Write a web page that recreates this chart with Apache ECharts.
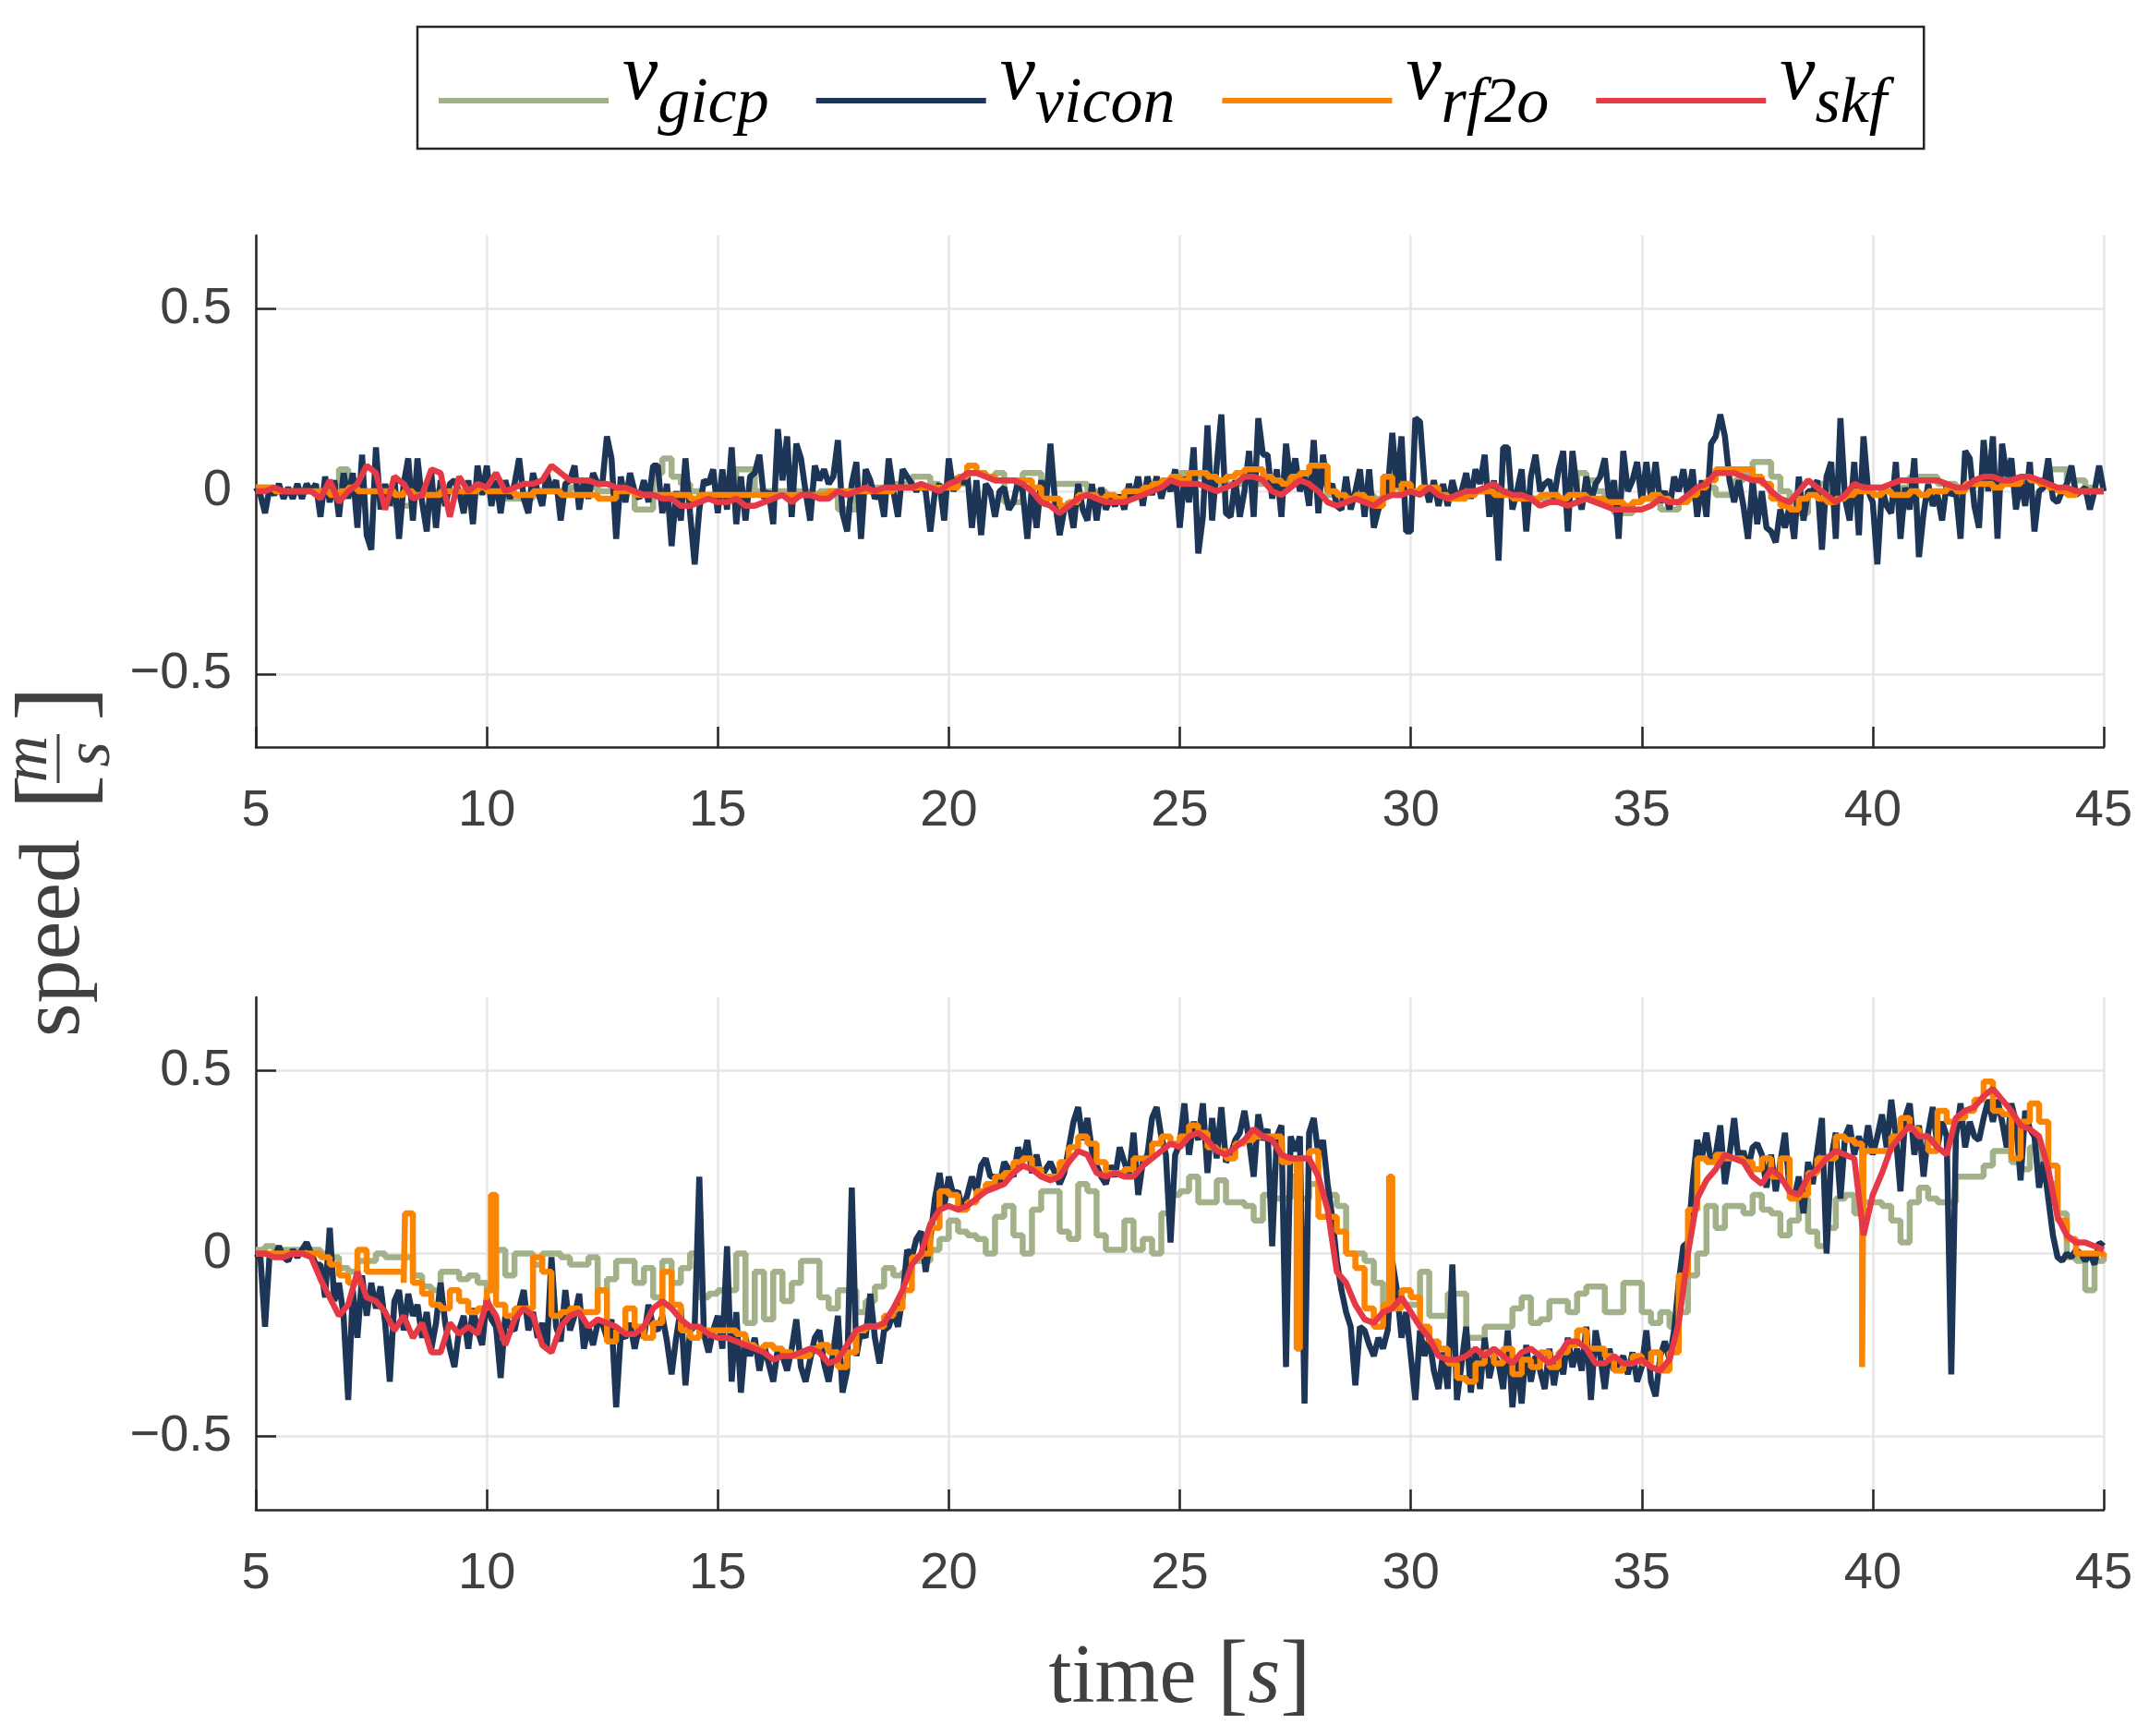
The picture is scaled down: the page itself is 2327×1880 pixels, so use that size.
<!DOCTYPE html>
<html>
<head>
<meta charset="utf-8">
<title>speed</title>
<script src="https://cdn.jsdelivr.net/npm/echarts@6/dist/echarts.min.js"></script>
<style>
  html, body { margin: 0; padding: 0; background: #fff; }
  #main { width: 2327px; height: 1880px; }
</style>
</head>
<body>
<div id="main"></div>
<script>
// samples start at t = 5 s; vicon every 0.1 s, the estimators every 0.2 s
const T_START = 5;
const DT_VICON = 0.1;
const DT_EST = 0.2;
const yTicks = [-0.5, 0, 0.5];
const names = ['gicp', 'vicon', 'rf2o', 'skf'];

// ---- upper plot ----
const topVicon = [
  0.01,-0.01,-0.06,0.01,-0.01,0.02,-0.02,0.01,-0.02,0.02,
  -0.02,0.02,0,0.02,-0.07,0.04,-0.03,0.03,-0.07,0.05,
  -0.02,0.05,-0.1,0.1,-0.12,-0.16,0.12,-0.05,0.02,-0.04,
  0.04,-0.13,0.02,0.09,-0.08,0.09,-0.03,-0.11,0.05,-0.1,
  0.03,-0.04,0.02,0.03,0,-0.06,0.03,-0.09,0.07,-0.01,
  0.07,-0.04,0.03,-0.06,0.03,-0.02,0.02,0.09,-0.02,-0.06,
  0.05,0,-0.04,0.05,0,0.03,-0.08,0.02,0.03,0.07,
  -0.05,0.03,-0.02,0.05,0.02,0.02,0.15,0.09,-0.13,0.04,
  -0.03,0.05,0,-0.02,0.03,-0.03,0.07,0.07,-0.06,0.02,
  -0.15,0,-0.08,0.09,-0.06,-0.2,-0.05,0.03,0.02,0.06,
  -0.06,0.06,-0.05,0.12,-0.09,0.04,-0.08,0.04,0.05,0.1,
  -0.02,0,-0.09,0.17,0.03,0.15,-0.07,0.13,0.09,0,
  -0.08,0.07,0.03,0.06,0.02,0.04,0.14,-0.06,-0.11,0.02,
  0.08,-0.13,0.06,0.03,-0.02,0,-0.07,0.09,0,-0.07,
  0.06,0.04,0.02,0,0.02,0,-0.11,0,0.02,-0.08,
  0.09,0,0.04,0.02,0.05,-0.1,0.03,-0.12,0.02,0,
  -0.07,0,0.01,-0.05,-0.03,0.03,0,-0.13,0.01,-0.1,
  0.03,-0.04,0.13,-0.03,-0.12,-0.05,-0.03,-0.1,0.02,-0.05,
  -0.08,0.02,-0.08,0.01,-0.05,-0.02,-0.04,-0.01,-0.05,0.02,
  -0.02,0.04,-0.04,0.04,-0.01,0.04,-0.02,0.03,0,0.06,
  -0.1,0.04,-0.03,0.12,-0.17,-0.07,0.18,-0.08,0.07,0.21,
  -0.06,-0.07,0.03,-0.07,0,0.11,-0.07,0.2,0.1,0.1,
  -0.02,0.06,-0.07,0.13,0.02,0.09,0,0.04,-0.04,0.14,
  -0.06,0.1,0,0.02,-0.04,-0.05,0.04,-0.05,0,0.06,
  -0.07,0.06,-0.1,-0.05,-0.02,0,0.16,0.01,0.15,-0.11,
  -0.11,0.2,0.19,0.02,-0.03,0.03,-0.04,0.02,-0.04,0.03,
  -0.02,0,0.05,-0.02,0.06,0.02,0.1,-0.07,0.03,-0.19,
  0.12,0.12,-0.05,0,0.06,-0.11,0.04,0.1,0,0.02,
  0.03,-0.02,0.06,0.11,-0.11,0.11,0,-0.05,0.04,-0.03,
  0.02,0.04,0.09,-0.03,0.03,-0.13,0.11,0,0.03,0.08,
  -0.03,0.08,-0.02,0.08,-0.03,0,-0.05,0.04,0,0.06,
  -0.02,0.06,-0.07,0.03,-0.07,0.13,0.15,0.21,0.15,0.03,
  -0.03,0.03,-0.04,-0.13,0.03,-0.09,0,-0.1,-0.11,-0.14,
  -0.05,-0.1,-0.04,-0.13,0.04,-0.08,0,0,0.03,-0.16,
  0.04,0.08,-0.13,0.2,-0.02,-0.08,0.08,-0.12,0.15,0,
  -0.03,-0.2,0.01,-0.04,-0.06,0.08,-0.13,0.01,-0.05,0.09,
  -0.18,-0.06,0.02,-0.04,-0.01,-0.08,0.02,-0.01,0,-0.13,
  0.11,0.09,-0.04,-0.1,0.14,0,0.15,-0.13,0.13,0.04,
  0.09,-0.05,0.03,-0.04,0.08,-0.11,0,0.01,0.09,-0.02,
  -0.03,0,0.02,0.07,-0.01,0,0.01,-0.05,0,0.07,
  0
];
const topGicp = [
  0.01,0.01,0,0,0,  0,0,0,0.02,0.06,  0.03,0,0,0,0,  -0.04,-0.04,0,0,0,
  0,0,0,0,0,  0,0,-0.02,-0.02,-0.02,  0,0,0,0,0.01,  0.01,0.01,0,0,0,
  0,-0.05,-0.05,0.05,0.09,  0.04,0.02,0,-0.01,-0.01,  0,0,0.06,0.06,0,
  0,0,0,0,0,  -0.01,0,0,-0.05,-0.05,  0,0,0.01,0.01,0.02,
  0.02,0.04,0.04,0.02,0.01,  0.01,0.02,0.05,0.05,0.04,  0.05,-0.03,-0.03,0.05,0.05,
  0.02,0.02,0.02,0.02,0.02,  0,0,-0.02,-0.02,0,  0,0,0.01,0.01,0.02,
  0.05,0.05,0.04,0.03,0.02,  0.02,0.02,0.03,0.02,0.02,  0.02,0.02,0.02,0.03,0.03,
  0.02,-0.01,-0.02,-0.02,-0.01,  -0.01,-0.02,0.01,0.01,0,  0,0,0,-0.01,-0.01,
  -0.01,-0.01,0,0,0,  0,-0.01,-0.01,-0.02,-0.02,  -0.02,-0.02,-0.01,0.05,0.03,
  0,-0.02,-0.06,-0.06,-0.03,  -0.02,-0.02,-0.05,-0.05,-0.03,  -0.02,0,0.01,-0.01,-0.01,
  0.03,0.05,0.08,0.08,0.04,  0,-0.03,-0.06,0,0.02,  0,-0.01,0,0.01,0.01,
  0.01,0,0,0.01,0.04,  0.04,0.04,0.02,0.02,0.01,  0.01,0.03,0.03,0.02,0.02,
  0.02,0.03,0.03,0.03,0.06,  0.06,0.03,0.03,0.01,0,
  0
];
const topRf2o = [
  0.01,0.01,0,0,0,  0,0,0,-0.01,0,  0.01,0,0,0,0,  -0.01,0,-0.01,-0.01,-0.01,
  0,0,0,0,0.01,  0,0,0,-0.01,-0.01,  0,0,0,-0.01,-0.01,  -0.01,-0.01,-0.02,-0.02,0,
  0,-0.01,-0.01,-0.01,-0.01,  -0.01,-0.01,-0.02,-0.01,-0.01,  -0.01,-0.01,-0.01,-0.01,-0.01,
  -0.01,-0.01,-0.01,-0.01,-0.01,  -0.01,-0.01,0,0,0,  0,0,0,0,0.01,
  0.01,0.01,0.01,0.01,0.01,  0.01,0.04,0.07,0.05,0.04,  0.03,0.03,0.03,0.03,0.01,
  -0.02,-0.02,-0.04,-0.03,-0.01,  -0.01,-0.02,-0.01,-0.02,0,  0,0.01,0.02,0.03,0.04,
  0.03,0.05,0.05,0.04,0.03,  0.04,0.05,0.06,0.06,0.04,  0.03,0.02,0.04,0.05,0.07,
  0.07,0,-0.01,-0.02,-0.01,  -0.02,-0.04,0.04,-0.01,0.02,  0,0.01,0.01,-0.01,-0.02,
  -0.02,-0.01,0,0,-0.01,  -0.01,-0.02,-0.02,-0.02,-0.01,  -0.01,-0.02,-0.01,-0.01,-0.02,
  -0.02,-0.03,-0.03,-0.04,-0.03,  -0.02,-0.01,-0.02,-0.03,-0.03,  -0.01,0.01,0.03,0.06,0.06,
  0.06,0.06,0.04,0.02,-0.02,  -0.04,-0.05,-0.02,-0.01,-0.02,  -0.03,-0.02,-0.01,0,0,
  -0.01,0,-0.01,-0.01,0,  -0.01,0,0,0.01,0,  0.02,0.02,0.02,0.01,0.02,
  0.02,0.04,0.03,0.02,0.01,  0,-0.01,0,0,0,
  0
];
const topSkf = [
  0,0,0.01,0,0,  0,0,-0.02,0.03,-0.03,  0,0.02,0.07,0.05,-0.05,  0.04,0.02,-0.02,-0.01,0.06,
  0.05,-0.07,0.04,0,0.02,  0.01,0.05,0,0.01,0.02,  0.02,0.03,0.07,0.05,0.03,  0.03,0.03,0.02,0.02,0.01,
  0.01,0,-0.01,-0.01,-0.02,  -0.02,-0.04,-0.04,-0.03,-0.02,  -0.03,-0.03,-0.02,-0.04,-0.04,
  -0.03,-0.02,-0.01,-0.03,-0.01,  -0.01,-0.02,-0.02,0,-0.01,  0,0.01,0,0.01,0.01,
  0.01,0.01,0.02,0.01,0,  0.02,0.03,0.05,0.05,0.04,  0.03,0.03,0.03,0.02,0,
  -0.03,-0.04,-0.06,-0.04,-0.02,  -0.01,-0.02,-0.03,-0.03,-0.03,  -0.02,-0.01,0,0.01,0.03,
  0.02,0.02,0.02,0.01,0,  0.01,0.02,0.04,0.04,0.03,  0,-0.01,0.01,0.03,0.02,
  0,-0.03,-0.04,-0.03,-0.02,  -0.03,-0.04,-0.02,-0.01,-0.01,  0,-0.01,0.01,-0.01,-0.02,
  -0.01,0,0,0.01,0.02,  0,-0.01,-0.01,-0.02,-0.04,  -0.03,-0.03,-0.04,-0.03,-0.02,
  -0.03,-0.04,-0.05,-0.05,-0.05,  -0.05,-0.04,-0.02,-0.03,-0.03,  -0.01,0.01,0.02,0.05,0.05,
  0.05,0.04,0.03,0.03,0,  -0.02,-0.03,0,0.03,0.01,  -0.01,-0.03,-0.01,0.02,0.01,
  0.01,0.01,0.02,0.03,0.03,  0.03,0.03,0.03,0.02,0.01,  0.01,0.03,0.04,0.04,0.03,
  0.03,0.04,0.04,0.03,0.02,  0.01,0.01,0,0,0,
  0
];

// ---- lower plot ----
const botVicon = [
  0,-0.01,-0.2,0,-0.01,0.02,-0.01,-0.02,0.01,-0.01,
  0.01,0.03,0,-0.03,-0.03,-0.12,0.07,-0.13,-0.08,-0.17,
  -0.4,-0.1,-0.23,-0.06,-0.17,-0.08,-0.15,-0.09,-0.19,-0.35,
  -0.13,-0.1,-0.21,-0.11,-0.17,-0.14,-0.23,-0.16,-0.26,-0.19,
  -0.08,-0.19,-0.26,-0.31,-0.21,-0.17,-0.26,-0.15,-0.21,-0.25,
  -0.12,-0.18,-0.2,-0.34,-0.17,-0.2,-0.21,-0.15,-0.1,-0.21,
  -0.16,-0.23,-0.19,-0.26,-0.01,-0.2,-0.24,-0.1,-0.21,-0.17,
  -0.11,-0.26,-0.2,-0.25,-0.19,-0.19,-0.23,-0.18,-0.42,-0.22,
  -0.23,-0.19,-0.26,-0.2,-0.23,-0.14,-0.2,-0.21,-0.17,-0.24,
  -0.33,-0.23,-0.15,-0.36,-0.21,-0.2,0.21,-0.22,-0.27,-0.21,
  -0.17,-0.26,0.02,-0.35,-0.16,-0.38,-0.23,-0.28,-0.23,-0.32,
  -0.25,-0.3,-0.35,-0.26,-0.28,-0.32,-0.26,-0.18,-0.31,-0.35,
  -0.29,-0.23,-0.21,-0.3,-0.35,-0.27,-0.17,-0.38,-0.32,0.18,
  -0.28,-0.21,-0.23,-0.11,-0.23,-0.3,-0.21,-0.2,-0.16,-0.2,
  -0.12,0.01,-0.01,0.04,0.06,-0.05,0.04,0.15,0.22,0.13,
  0.21,0.16,0.17,0.12,0.16,0.21,0.17,0.24,0.26,0.21,
  0.21,0.19,0.25,0.23,0.21,0.29,0.25,0.31,0.22,0.27,
  0.21,0.23,0.25,0.22,0.19,0.22,0.29,0.36,0.4,0.31,
  0.37,0.28,0.24,0.21,0.19,0.24,0.21,0.29,0.25,0.21,
  0.33,0.16,0.25,0.27,0.37,0.4,0.32,0.27,0.03,0.27,
  0.3,0.41,0.27,0.36,0.31,0.41,0.22,0.37,0.26,0.4,
  0.25,0.27,0.31,0.33,0.39,0.31,0.21,0.38,0.31,0.34,
  0.02,0.32,0.35,-0.31,0.32,0.28,0.32,-0.41,0.33,0.37,
  0.27,0.31,0.19,0.1,-0.02,-0.1,-0.16,-0.2,-0.36,-0.2,
  -0.21,-0.25,-0.28,-0.23,-0.26,-0.21,-0.02,-0.1,-0.23,-0.16,
  -0.28,-0.4,-0.21,-0.28,-0.23,-0.32,-0.37,-0.27,-0.37,-0.03,
  -0.4,-0.3,-0.2,-0.38,-0.26,-0.37,-0.23,-0.34,-0.28,-0.3,
  -0.37,-0.21,-0.42,-0.28,-0.41,-0.25,-0.35,-0.28,-0.32,-0.37,
  -0.26,-0.36,-0.28,-0.33,-0.23,-0.31,-0.26,-0.32,-0.2,-0.4,
  -0.21,-0.28,-0.37,-0.26,-0.32,-0.3,-0.28,-0.33,-0.27,-0.35,
  -0.31,-0.21,-0.35,-0.39,-0.28,-0.24,-0.29,-0.21,-0.08,0.02,
  0.03,0.19,0.31,0.26,0.33,0.25,0.27,0.35,0.19,0.27,
  0.37,0.25,0.28,0.23,0.29,0.3,0.27,0.18,0.27,0.17,
  0.25,0.33,0.17,0.15,0.21,0.11,0.25,0.19,0.28,0.37,
  0,0.26,0.33,0.15,0.32,0.35,0.27,0.32,0.27,0.35,
  0.27,0.32,0.38,0.29,0.42,0.32,0.17,0.37,0.41,0.27,
  0.35,0.21,0.33,0.4,0.29,0.36,0.32,-0.33,0.32,0.41,
  0.29,0.36,0.32,0.31,0.37,0.42,0.36,0.42,0.36,0.29,
  0.41,0.36,0.2,0.39,0.34,0.32,0.18,0.25,0.15,0.05,
  -0.01,-0.02,0,-0.01,0.01,0,-0.02,0,-0.03,0.03,
  0.02
];
const botGicp = [
  0.01,0.02,0.01,0.01,0.01,  0.01,0.01,0,-0.01,-0.04,  -0.05,-0.02,-0.02,0,-0.01,
  -0.01,-0.01,-0.06,-0.09,-0.1,  -0.05,-0.05,-0.07,-0.06,-0.08,  -0.1,0.01,-0.06,0,0,
  -0.03,0,0,-0.01,-0.03,  -0.03,-0.01,-0.1,-0.07,-0.02,  -0.02,-0.08,-0.04,-0.12,-0.02,
  -0.08,-0.04,0,-0.12,-0.11,  -0.1,-0.1,0,-0.19,-0.05,  -0.18,-0.05,-0.13,-0.08,-0.02,
  -0.02,-0.12,-0.15,-0.1,-0.1,  -0.16,-0.13,-0.09,-0.04,-0.06,  -0.05,-0.02,-0.02,0.01,0.04,
  0.09,0.06,0.05,0.04,0,  0.1,0.13,0.05,0,0.12,  0.17,0.17,0.06,0.04,0.19,
  0.17,0.05,0.01,0.01,0.09,  0.01,0.04,0,0.11,0.16,  0.17,0.21,0.14,0.14,0.2,
  0.14,0.14,0.13,0.09,0.16,  0.15,0.15,0.21,0.15,0.19,  0.16,0.16,0.13,0,0,
  -0.02,-0.08,-0.14,-0.14,-0.14,  -0.14,-0.05,-0.17,-0.17,-0.11,  -0.11,-0.23,-0.23,-0.2,-0.2,
  -0.2,-0.15,-0.12,-0.19,-0.18,  -0.13,-0.13,-0.16,-0.11,-0.09,  -0.09,-0.16,-0.16,-0.08,-0.08,
  -0.16,-0.19,-0.16,-0.2,-0.16,  -0.06,0,0.13,0.07,0.13,  0.13,0.11,0.16,0.12,0.11,
  0.05,0.09,0.15,0.06,0.02,  0.07,0.15,0.16,0.11,0.14,  0.14,0.13,0.09,0.03,0.14,
  0.18,0.15,0.14,0.14,0.21,  0.21,0.21,0.24,0.28,0.28,  0.25,0.23,0.29,0.25,0.19,
  0.11,-0.01,-0.02,-0.1,-0.02,
  0
];
const botRf2o = [
  0,0,0,0,0,  0,0,-0.01,-0.03,-0.06,  -0.08,0.01,-0.05,-0.05,-0.05,
  -0.05,-0.08,-0.08,-0.11,-0.14,  -0.15,-0.1,-0.13,-0.16,-0.15,  -0.1,-0.14,-0.17,-0.15,-0.15,
  -0.01,-0.05,-0.17,-0.16,-0.15,  -0.16,-0.16,-0.1,-0.24,-0.21,  -0.15,-0.2,-0.23,-0.19,-0.05,
  -0.14,-0.21,-0.23,-0.21,-0.21,  -0.21,-0.21,-0.22,-0.25,-0.26,  -0.25,-0.26,-0.27,-0.28,-0.28,
  -0.26,-0.25,-0.27,-0.31,-0.27,  -0.21,-0.2,-0.2,-0.17,-0.15,  -0.1,-0.01,0,0.07,0.17,
  0.16,0.12,0.14,0.17,0.19,  0.21,0.22,0.25,0.26,0.23,  0.21,0.21,0.25,0.29,0.32,
  0.3,0.25,0.22,0.22,0.23,  0.26,0.26,0.3,0.32,0.3,  0.32,0.35,0.33,0.29,0.28,
  0.26,0.3,0.31,0.32,0.32,  0.32,0.25,0.26,0.26,0.28,  0.1,0.1,0.06,0,-0.04,
  -0.15,-0.2,-0.14,-0.15,-0.1,  -0.12,-0.2,-0.24,-0.26,-0.3,  -0.34,-0.35,-0.3,-0.27,-0.3,
  -0.26,-0.33,-0.29,-0.31,-0.27,  -0.31,-0.27,-0.25,-0.21,-0.26,  -0.26,-0.28,-0.32,-0.3,-0.28,
  -0.3,-0.27,-0.32,-0.27,-0.06,  0.12,0.26,0.25,0.27,0.26,  0.26,0.25,0.23,0.26,0.21,
  0.26,0.15,0.16,0.22,0.26,  0.26,0.32,0.31,0.3,0.28,  0.28,0.28,0.32,0.37,0.34,
  0.32,0.28,0.39,0.36,0.37,  0.39,0.42,0.47,0.39,0.38,  0.26,0.36,0.41,0.36,0.24,
  0.09,0.04,0,0,0,
  -0.01
];
// short rf2o glitches between the 0.2 s samples: [time, value]
const botRf2oSpikes = [[8.23, 0.11], [10.09, 0.16], [27.53, -0.26], [29.53, 0.21], [39.77, -0.31]];
const botSkf = [
  0,0,-0.01,-0.01,0,  0,-0.01,-0.07,-0.12,-0.17,  -0.14,-0.05,-0.12,-0.13,-0.16,
  -0.21,-0.17,-0.23,-0.19,-0.27,  -0.27,-0.19,-0.22,-0.2,-0.22,  -0.13,-0.17,-0.25,-0.18,-0.15,
  -0.17,-0.25,-0.27,-0.2,-0.17,  -0.16,-0.2,-0.18,-0.19,-0.2,  -0.22,-0.22,-0.2,-0.15,-0.13,
  -0.15,-0.18,-0.2,-0.2,-0.22,  -0.23,-0.23,-0.24,-0.25,-0.26,  -0.27,-0.29,-0.28,-0.28,-0.27,
  -0.26,-0.27,-0.3,-0.29,-0.25,  -0.21,-0.2,-0.2,-0.19,-0.15,  -0.1,-0.03,0,0.08,0.12,
  0.13,0.12,0.13,0.15,0.17,  0.18,0.19,0.22,0.24,0.23,  0.21,0.2,0.21,0.25,0.28,
  0.27,0.22,0.21,0.22,0.21,  0.21,0.24,0.26,0.28,0.3,  0.29,0.32,0.33,0.31,0.28,
  0.27,0.29,0.31,0.34,0.32,  0.31,0.27,0.26,0.26,0.26,  0.21,0.12,-0.05,-0.08,-0.14,
  -0.18,-0.19,-0.16,-0.15,-0.12,  -0.16,-0.2,-0.23,-0.28,-0.29,  -0.29,-0.28,-0.26,-0.28,-0.26,
  -0.28,-0.3,-0.27,-0.26,-0.28,  -0.3,-0.28,-0.24,-0.24,-0.26,  -0.3,-0.3,-0.28,-0.3,-0.3,
  -0.29,-0.31,-0.32,-0.29,-0.19,  0,0.15,0.2,0.23,0.27,  0.26,0.25,0.21,0.19,0.23,
  0.21,0.17,0.16,0.21,0.23,  0.26,0.28,0.27,0.26,0.05,  0.16,0.22,0.29,0.32,0.35,
  0.32,0.32,0.29,0.27,0.37,  0.39,0.4,0.43,0.45,0.42,  0.39,0.35,0.34,0.32,0.23,
  0.1,0.05,0.03,0.03,0.02,
  0.01
];

const colors = { gicp: '#A3B18A', vicon: '#1D3557', rf2o: '#FB8500', skf: '#E63946' };
const axisColor = '#262626';
const labelColor = '#404040';

function timed(values, dt) {
  return values.map((v, i) => [Math.round((T_START + i * dt) * 100) / 100, v]);
}
function withSpikes(pairs, spikes) {
  return pairs.concat(spikes).sort((a, b) => a[0] - b[0]);
}

function line(name, data, idx, step) {
  return {
    type: 'line',
    name: name,
    data: data,
    xAxisIndex: idx,
    yAxisIndex: idx,
    symbol: 'none',
    step: step || false,
    clip: true,
    lineStyle: { color: colors[name], width: 6.5 },
    itemStyle: { color: colors[name] },
    emphasis: { disabled: true }
  };
}

function xAxis(idx, withName) {
  const ax = {
    type: 'value',
    gridIndex: idx,
    min: 5, max: 45, interval: 5,
    axisLine: { show: true, onZero: false, lineStyle: { color: axisColor, width: 2.5 } },
    axisTick: { show: true, inside: true, length: 22, lineStyle: { color: axisColor, width: 2.5 } },
    axisLabel: { fontSize: 56, color: labelColor, margin: 42, fontFamily: 'Liberation Sans' },
    splitLine: { show: true, lineStyle: { color: '#e6e6e6', width: 2.5 } }
  };
  if (withName) {
    ax.name = '{t|time }{b|[}{i|s}{b|]}';
    ax.nameLocation = 'middle';
    ax.nameGap = 134;
    ax.nameTextStyle = {
      color: labelColor,
      rich: {
        t: { fontSize: 90, fontFamily: 'Liberation Serif', color: labelColor },
        b: { fontSize: 100, fontFamily: 'Liberation Serif', color: labelColor },
        i: { fontSize: 90, fontFamily: 'Liberation Serif', fontStyle: 'italic', color: labelColor }
      }
    };
  }
  return ax;
}

function yAxis(idx) {
  return {
    type: 'value',
    gridIndex: idx,
    min: -0.7, max: 0.7,
    axisLine: { show: true, onZero: false, lineStyle: { color: axisColor, width: 2.5 } },
    axisTick: { show: true, inside: true, length: 22, customValues: yTicks, lineStyle: { color: axisColor, width: 2.5 } },
    axisLabel: {
      customValues: yTicks,
      fontSize: 56, color: labelColor, margin: 26, fontFamily: 'Liberation Sans',
      formatter: v => (v < 0 ? '\u2212' + String(-v) : String(v))
    },
    splitLine: { show: true, lineStyle: { color: '#e6e6e6', width: 2.5 } }
  };
}

const chart = echarts.init(document.getElementById('main'), null, { renderer: 'canvas' });
chart.setOption({
  animation: false,
  backgroundColor: '#ffffff',
  legend: {
    data: names,
    left: 452,
    top: 29,
    itemWidth: 184,
    itemHeight: 6,
    itemGap: 48,
    padding: [12, 40, 12, 20],
    borderColor: axisColor,
    borderWidth: 2.5,
    backgroundColor: '#ffffff',
    lineStyle: { width: 6 },
    formatter: n => '{v|v}{s|' + n + '}',
    textStyle: {
      padding: [0, 0, 0, 10],
      rich: {
        v: { fontSize: 86, fontFamily: 'Liberation Serif', fontStyle: 'italic', color: '#000', verticalAlign: 'bottom', lineHeight: 80, padding: [0, 0, 22, 0] },
        s: { fontSize: 70, fontFamily: 'Liberation Serif', fontStyle: 'italic', color: '#000', verticalAlign: 'bottom', lineHeight: 80 }
      }
    }
  },
  grid: [
    { left: 277, top: 255, width: 2001, height: 554 },
    { left: 277, top: 1080, width: 2001, height: 555 }
  ],
  xAxis: [xAxis(0, false), xAxis(1, true)],
  yAxis: [yAxis(0), yAxis(1)],
  graphic: [{
    // y label "speed [m/s]" written bottom-to-top
    type: 'group',
    x: 88, y: 1123,
    rotation: Math.PI / 2,
    children: [
      { type: 'text', x: 0, y: -28, style: { text: 'speed', fontSize: 94, fontFamily: 'Liberation Serif', fill: labelColor, textAlign: 'left', textVerticalAlign: 'middle' } },
      { type: 'text', x: 246, y: -22, style: { text: '[', fontSize: 115, fontFamily: 'Liberation Serif', fill: labelColor, textAlign: 'left', textVerticalAlign: 'middle' } },
      { type: 'text', x: 301, y: -56, style: { text: 'm', fontSize: 70, fontFamily: 'Liberation Serif', fontStyle: 'italic', fill: labelColor, textAlign: 'center', textVerticalAlign: 'middle' } },
      { type: 'line', shape: { x1: 275, y1: -25, x2: 328, y2: -25 }, style: { stroke: labelColor, lineWidth: 3 } },
      { type: 'text', x: 306, y: 12, style: { text: 's', fontSize: 70, fontFamily: 'Liberation Serif', fontStyle: 'italic', fill: labelColor, textAlign: 'center', textVerticalAlign: 'middle' } },
      { type: 'text', x: 342, y: -22, style: { text: ']', fontSize: 115, fontFamily: 'Liberation Serif', fill: labelColor, textAlign: 'left', textVerticalAlign: 'middle' } }
    ]
  }],
  series: [
    line('gicp', timed(topGicp, DT_EST), 0, 'end'),
    line('vicon', timed(topVicon, DT_VICON), 0),
    line('rf2o', timed(topRf2o, DT_EST), 0, 'end'),
    line('skf', timed(topSkf, DT_EST), 0),
    line('gicp', timed(botGicp, DT_EST), 1, 'end'),
    line('vicon', timed(botVicon, DT_VICON), 1),
    line('rf2o', withSpikes(timed(botRf2o, DT_EST), botRf2oSpikes), 1, 'end'),
    line('skf', timed(botSkf, DT_EST), 1)
  ]
});
</script>
</body>
</html>
